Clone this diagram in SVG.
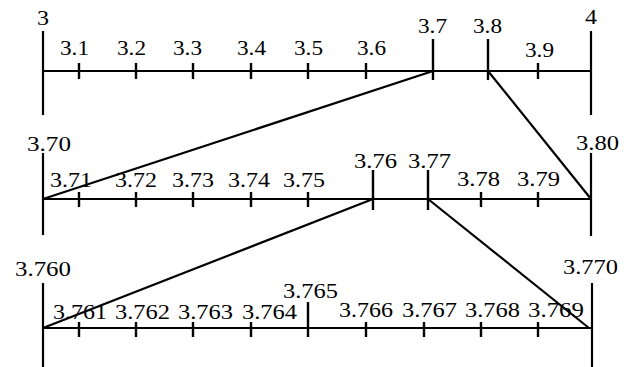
<svg xmlns="http://www.w3.org/2000/svg" width="629" height="367" viewBox="0 0 629 367">
<style>
.ax{stroke:#000;stroke-width:2.2;fill:none}
.tk{stroke:#000;stroke-width:2.4;fill:none}
.cn{stroke:#000;stroke-width:2.2;fill:none}
.lb{font-family:"Liberation Serif","Times New Roman",serif;font-size:20px;fill:#000}
</style>
<rect width="629" height="367" fill="#fff"/>
<g id="row1">
<line class="ax" x1="43" y1="71" x2="591" y2="71"/>
<line class="ax" x1="43" y1="31" x2="43" y2="115"/>
<line class="ax" x1="591" y1="31" x2="591" y2="115"/>
<path class="tk" d="M79 63V79M136 63V79M193 63V79M251 63V79M308 63V79M366 63V79M538 63V79M433 39V80M488 39V80"/>
<g class="lb" font-family="Liberation Serif, Times New Roman, serif" font-size="20" fill="#000">
<text x="37" y="25" textLength="12" lengthAdjust="spacingAndGlyphs">3</text>
<text x="60" y="55" textLength="29" lengthAdjust="spacingAndGlyphs">3.1</text>
<text x="117" y="55" textLength="29" lengthAdjust="spacingAndGlyphs">3.2</text>
<text x="173" y="55" textLength="29" lengthAdjust="spacingAndGlyphs">3.3</text>
<text x="237" y="55" textLength="29" lengthAdjust="spacingAndGlyphs">3.4</text>
<text x="294" y="55" textLength="29" lengthAdjust="spacingAndGlyphs">3.5</text>
<text x="357" y="55" textLength="29" lengthAdjust="spacingAndGlyphs">3.6</text>
<text x="418" y="33" textLength="29" lengthAdjust="spacingAndGlyphs">3.7</text>
<text x="473" y="33" textLength="29" lengthAdjust="spacingAndGlyphs">3.8</text>
<text x="525" y="57" textLength="29" lengthAdjust="spacingAndGlyphs">3.9</text>
<text x="585" y="24" textLength="12" lengthAdjust="spacingAndGlyphs">4</text>
</g>
</g>
<g id="row2">
<line class="ax" x1="43" y1="199" x2="591" y2="199"/>
<line class="ax" x1="43" y1="153" x2="43" y2="235"/>
<line class="ax" x1="591" y1="153" x2="591" y2="236"/>
<path class="tk" d="M79 192V207M136 192V207M193 192V207M251 192V207M308 192V207M481 192V207M538 192V207M373 170V210M428 170V210"/>
<g class="lb" font-family="Liberation Serif, Times New Roman, serif" font-size="20" fill="#000">
<text x="27" y="151" textLength="44" lengthAdjust="spacingAndGlyphs">3.70</text>
<text x="50" y="187" textLength="42" lengthAdjust="spacingAndGlyphs">3.71</text>
<text x="115" y="187" textLength="42" lengthAdjust="spacingAndGlyphs">3.72</text>
<text x="172" y="187" textLength="42" lengthAdjust="spacingAndGlyphs">3.73</text>
<text x="228" y="187" textLength="42" lengthAdjust="spacingAndGlyphs">3.74</text>
<text x="283" y="187" textLength="42" lengthAdjust="spacingAndGlyphs">3.75</text>
<text x="354" y="168" textLength="43" lengthAdjust="spacingAndGlyphs">3.76</text>
<text x="408" y="168" textLength="43" lengthAdjust="spacingAndGlyphs">3.77</text>
<text x="457" y="186" textLength="43" lengthAdjust="spacingAndGlyphs">3.78</text>
<text x="517" y="186" textLength="43" lengthAdjust="spacingAndGlyphs">3.79</text>
<text x="576" y="150" textLength="43" lengthAdjust="spacingAndGlyphs">3.80</text>
</g>
</g>
<g id="row3">
<line class="ax" x1="43" y1="328" x2="592" y2="328"/>
<line class="ax" x1="43" y1="283" x2="43" y2="367"/>
<line class="ax" x1="592" y1="283" x2="592" y2="367"/>
<path class="tk" d="M79 322V337M136 322V337M193 322V337M251 322V337M366 322V337M424 322V337M481 322V337M538 322V337M308 302V337"/>
<g class="lb" font-family="Liberation Serif, Times New Roman, serif" font-size="20" fill="#000">
<text x="15" y="276" textLength="56" lengthAdjust="spacingAndGlyphs">3.760</text>
<text x="53" y="319" textLength="54" lengthAdjust="spacingAndGlyphs">3.761</text>
<text x="115" y="319" textLength="55" lengthAdjust="spacingAndGlyphs">3.762</text>
<text x="178" y="319" textLength="55" lengthAdjust="spacingAndGlyphs">3.763</text>
<text x="242" y="319" textLength="55" lengthAdjust="spacingAndGlyphs">3.764</text>
<text x="283" y="298" textLength="55" lengthAdjust="spacingAndGlyphs">3.765</text>
<text x="339" y="317" textLength="54" lengthAdjust="spacingAndGlyphs">3.766</text>
<text x="402" y="317" textLength="55" lengthAdjust="spacingAndGlyphs">3.767</text>
<text x="465" y="317" textLength="55" lengthAdjust="spacingAndGlyphs">3.768</text>
<text x="528" y="317" textLength="56" lengthAdjust="spacingAndGlyphs">3.769</text>
<text x="563" y="274" textLength="55" lengthAdjust="spacingAndGlyphs">3.770</text>
</g>
</g>
<g id="connectors">
<line class="cn" x1="433" y1="71" x2="43" y2="199"/>
<line class="cn" x1="488" y1="71" x2="591" y2="199"/>
<line class="cn" x1="373" y1="199" x2="43" y2="328"/>
<line class="cn" x1="428" y1="199" x2="589" y2="328"/>
</g>
</svg>
